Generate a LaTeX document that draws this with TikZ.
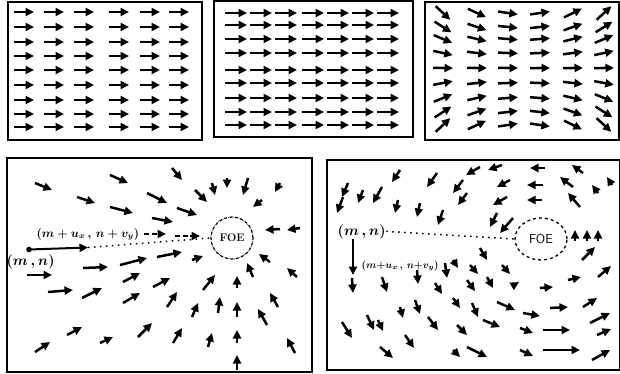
\documentclass[tikz,border=0pt]{standalone}
\usepackage{amsmath}
\usetikzlibrary{arrows.meta, shapes.geometric}

\begin{document}
\begin{tikzpicture}[
    x=1pt, y=-1pt,
    frame/.style={line width=2pt},
    vec/.style={line width=2.5pt, -{Triangle[length=8.5pt, width=8pt]}},
    dots/.style={line width=1.5pt, dash pattern=on 1.5pt off 4.5pt},
    lab/.style={font=\boldmath\fontsize{14}{16}\selectfont, inner sep=0.5pt},
    small lab/.style={font=\boldmath\fontsize{10}{12}\selectfont, inner sep=0.5pt},
]
\useasboundingbox (0,0) rectangle (620,374);

% the three translation fields on top
\draw[frame] (8,2) rectangle (202,140);
\foreach \y in {12,27,42,56,70,85,100,114,127}
  \foreach \x in {14,44,74,109,140,169}
    \draw[vec] (\x,\y) -- ++(20,0);

\draw[frame] (214,1) rectangle (413,137);
\foreach \y in {13,25,39,53,70,83,98,112,125}
  \foreach \x in {225,250,275,302,327,352,377}
    \draw[vec] (\x,\y) -- ++(22,0);

\draw[frame] (425,2) rectangle (619,140);
\foreach \y in {13,27,39,53,68,83,98,112,125}
  \foreach \x in {443,477,508,540,573,604}{
    \pgfmathsetmacro\ang{0.0095*(\x-524)*(\y-69)}
    \draw[vec] (\x,\y) ++(\ang+180:10) -- ++(\ang:20);}

% contracting field round the FOE
\draw[frame] (7,158) rectangle (312,372);
\node[circle, draw, densely dashdotted, line width=1.2pt, minimum size=42pt,
      inner sep=0pt, font=\bfseries\fontsize{11}{12}\selectfont] (foeL) at (232,238) {FOE};
\foreach \a/\b/\c/\d in {35/183/52/190, 110/175/128/183, 172/168/182/180,
    227/178/227/188, 212/183/215/195, 248/178/243/195, 280/183/275/192,
    77/197/95/203, 147/193/167/203, 195/190/207/202, 110/207/133/213,
    177/208/197/215, 262/200/253/207, 152/218/173/222, 300/228/287/230,
    280/229/265/230, 27/275/52/275, 83/268/108/267, 120/265/147/258,
    157/257/182/252, 192/260/203/256, 48/292/73/290, 82/298/102/288,
    123/282/140/273, 153/287/170/278, 203/290/215/275, 237/288/237/276,
    253/277/247/263, 270/262/259/254, 297/277/287/268, 123/303/140/293,
    167/307/177/292, 192/317/198/303, 218/313/220/297, 237/317/237/302,
    278/307/270/293, 67/335/82/327, 100/343/113/337, 138/337/152/323,
    173/343/182/328, 208/347/212/333, 237/343/237/330, 267/325/258/309,
    35/352/50/342, 237/370/237/355, 295/353/287/338}
  \draw[vec] (\a,\b) -- (\c,\d);

\coordinate (mnL) at (29,249.5);
\coordinate (muL) at (88,247.5);
\fill (mnL) circle (2.8pt);
\draw[vec, line width=2pt] (mnL) -- (muL);
\draw[dots] (muL) -- (foeL.west);
\draw[vec, dash pattern=on 5pt off 2.5pt] (144,234) -- (166,234);
\draw[vec, dash pattern=on 5pt off 2.5pt] (175,236) -- (200,236);
\node[lab, anchor=base west, font=\boldmath\fontsize{12}{14}\selectfont] (muLlab) at (36,237)
     {$(m+u_x\,,\,n+v_y)$};
\node[lab, anchor=base west] (mnLlab) at (6,265) {$(m\,,n)$};

% the same FOE with a rotating field
\draw[frame] (327,160) rectangle (620,370);
\node[ellipse, draw, dashed, line width=1.3pt, minimum width=52pt, minimum height=42pt,
      inner sep=0pt, font=\sffamily\fontsize{13}{14}\selectfont] (foeR) at (541,239) {FOE};
\foreach \a/\b/\c/\d in {348/183/342/197, 363/190/358/203, 400/170/392/182,
    382/187/373/203, 343/197/337/213, 398/200/395/213, 437/173/427/187,
    463/180/453/193, 420/203/417/217, 443/210/438/225, 480/167/466/175,
    467/193/458/205, 502/165/488/170, 510/180/497/187, 507/197/493/205,
    497/213/490/227, 513/218/500/233, 545/168/530/168, 543/185/527/185,
    542/200/527/200, 583/173/572/165, 573/187/560/177, 580/207/568/193,
    598/193/592/185, 612/185/607/177, 575/241/575/230, 587/241/587/230,
    598/241/598/230, 582/260/595/247, 598/277/611/266, 568/280/581/277,
    583/307/597/298, 590/323/610/313, 597/335/611/329, 592/360/610/350,
    543/330/570/330, 543/350/580/350, 540/288/553/287, 550/308/568/307,
    480/248/487/260, 453/260/458/268, 470/265/478/274, 502/265/510/274,
    487/277/493/288, 467/280/475/291, 445/263/447/278, 417/270/418/284,
    352/278/353/293, 382/277/387/292, 435/283/442/294, 453/298/460/308,
    472/303/478/317, 497/302/515/310, 523/313/540/316, 342/322/352/338,
    367/315/374/330, 378/320/383/331, 400/307/403/318, 415/300/420/314,
    405/335/414/348, 428/317/438/330, 457/325/467/335, 483/320/500/327,
    520/328/533/333, 380/347/393/358, 453/350/460/357, 467/347/487/357,
    520/350/533/356, 514/285/519/282}
  \draw[vec] (\a,\b) -- (\c,\d);

\node[lab, anchor=base west] (mnRlab) at (337,235) {$(m\,,n)$};
\coordinate (mnR) at (353,239);
\coordinate (muR) at (353,275);
\draw[vec, line width=2pt] (mnR) -- (muR);
\draw[dots] (mnRlab.east) -- (foeR.west);
\node[small lab, anchor=west] (muRlab) at (361,266) {$(m{+}u_x\,,\,n{+}v_y)$};
\end{tikzpicture}
\end{document}
